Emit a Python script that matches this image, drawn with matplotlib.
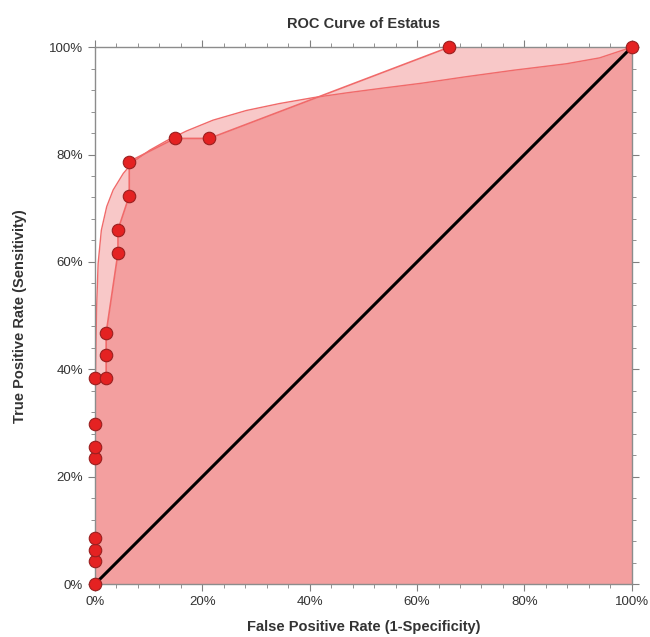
import numpy as np
import matplotlib.pyplot as plt
from matplotlib.ticker import MultipleLocator, FuncFormatter

plt.rcParams['font.family'] = ['Liberation Sans', 'DejaVu Sans']

# empirical ROC points (percent)
fpr = [0, 0, 0, 0, 0, 0, 0, 0, 2.1, 2.1, 2.1, 4.3, 4.3, 6.4, 6.4, 14.9, 21.3, 66.0, 100]
tpr = [0, 4.3, 6.4, 8.5, 23.4, 25.5, 29.8, 38.3, 38.3, 42.6, 46.8, 61.7, 66.0, 72.3, 78.7, 83.0, 83.0, 100, 100]

# fitted smooth ROC curve (percent)
fit_x = [0, 0.02, 0.08, 0.3, 0.6, 1.2, 2.2, 3.4, 5.3, 7.1, 10.2, 13.4, 17.1, 22.0,
         28.2, 34.4, 40.7, 47.0, 53.1, 61.0, 69.2, 78.0, 87.8, 94.0, 100]
fit_y = [0, 20, 36, 51.0, 59.7, 65.9, 70.3, 73.4, 76.5, 78.6, 80.8, 82.6, 84.4, 86.4,
         88.2, 89.5, 90.6, 91.5, 92.3, 93.3, 94.5, 95.7, 96.9, 98.0, 100]

fill_col = '#e83434'

fig = plt.figure(figsize=(6.5, 6.37), dpi=100)
ax = fig.add_axes([0.146, 0.083, 0.826, 0.843])

# two translucent fills, their overlap gives the darker area
ax.fill_between(fit_x, fit_y, 0, color=fill_col, alpha=0.27, lw=0)
ax.fill_between(fpr, tpr, 0, color=fill_col, alpha=0.27, lw=0)
ax.plot(fit_x, fit_y, color='#f06a6a', lw=1)
ax.plot(fpr, tpr, color='#f06a6a', lw=1.2)

# chance line
ax.plot([0, 100], [0, 100], color='black', lw=2.2)

ax.plot(fpr, tpr, 'o', ms=9, color='#e42222', mec='#9a1f1f', mew=0.8, zorder=5, clip_on=False)

ax.set_xlim(0, 100)
ax.set_ylim(0, 100)
pct = FuncFormatter(lambda v, p: f'{v:.0f}%')
ax.xaxis.set_major_locator(MultipleLocator(20))
ax.yaxis.set_major_locator(MultipleLocator(20))
ax.xaxis.set_minor_locator(MultipleLocator(4))
ax.yaxis.set_minor_locator(MultipleLocator(4))
ax.xaxis.set_major_formatter(pct)
ax.yaxis.set_major_formatter(pct)
ax.tick_params(which='both', direction='out', colors='#808080', labelcolor='#333333',
               top=True, right=True, labelsize=9.5)
ax.tick_params(which='major', length=5)
ax.tick_params(which='minor', length=3)
for s in ax.spines.values():
    s.set_color('#8c8c8c')
    s.set_linewidth(1)

ax.set_title('ROC Curve of Estatus', fontsize=10.5, fontweight='bold', color='#333333', pad=14)
ax.set_xlabel('False Positive Rate (1-Specificity)', fontsize=10.5, fontweight='bold',
              color='#333333', labelpad=9)
ax.set_ylabel('True Positive Rate (Sensitivity)', fontsize=10.5, fontweight='bold',
              color='#333333', labelpad=16)

fig.savefig('out.png', dpi=100)
